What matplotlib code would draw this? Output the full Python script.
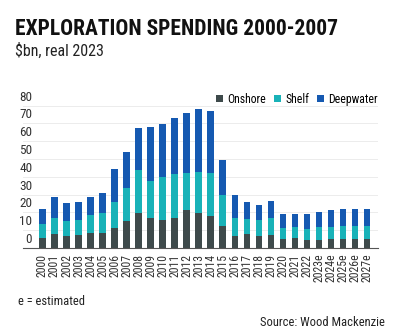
import numpy as np
import matplotlib
matplotlib.use("Agg")
import matplotlib.pyplot as plt
from matplotlib import font_manager
from matplotlib.transforms import blended_transform_factory, offset_copy

years = ["2000", "2001", "2002", "2003", "2004", "2005", "2006", "2007",
         "2008", "2009", "2010", "2011", "2012", "2013", "2014", "2015",
         "2016", "2017", "2018", "2019", "2020", "2021", "2022",
         "2023e", "2024e", "2025e", "2026e", "2027e"]
onshore = [5.6, 7.9, 6.7, 7.1, 8.6, 8.4, 11.4, 15.0, 19.7, 16.7, 15.9, 16.7,
           21.2, 19.7, 18.2, 12.2, 6.7, 7.7, 6.7, 7.1, 5.1, 5.6, 4.7,
           4.7, 4.9, 5.2, 5.2, 4.9]
shelf = [8.1, 8.8, 8.3, 8.8, 10.1, 11.5, 14.4, 18.5, 23.9, 21.1, 24.0, 24.7,
         21.1, 22.8, 24.1, 17.4, 10.0, 8.4, 9.0, 9.8, 6.1, 6.2, 6.2,
         6.9, 7.1, 7.3, 7.2, 7.6]
deepwater = [8.4, 11.8, 10.1, 9.9, 9.8, 11.0, 18.4, 20.6, 24.0, 30.0, 29.6,
             31.8, 33.7, 35.6, 34.5, 19.7, 13.3, 9.6, 8.3, 9.3, 8.1, 7.5,
             8.0, 8.8, 9.3, 9.6, 9.7, 9.6]
yticks = [0, 10, 20, 30, 40, 50, 60, 70, 80]

names = {f.name for f in font_manager.fontManager.ttflist}
fam = "DejaVu Sans"
for cand in ["Roboto Condensed", "Liberation Sans Narrow", "DejaVu Sans Condensed",
             "Open Sans Condensed", "Roboto", "Liberation Sans"]:
    if cand in names:
        fam = cand
        break
plt.rcParams["font.family"] = [fam, "DejaVu Sans"]
plt.rcParams["font.stretch"] = "condensed"

c_on = "#3e4a4b"
c_sh = "#19b2b8"
c_dw = "#1559b1"

fig = plt.figure(figsize=(4.0, 3.31), dpi=100)
ax = fig.add_axes([0.0575, 0.2508, 0.8875, 0.4299])

x = np.arange(len(years))
on = np.array(onshore)
sh = np.array(shelf)
dw = np.array(deepwater)
w = 0.55
ax.bar(x, on, w, color=c_on, label="Onshore", zorder=3)
ax.bar(x, sh, w, bottom=on, color=c_sh, label="Shelf", zorder=3)
ax.bar(x, dw, w, bottom=on + sh, color=c_dw, label="Deepwater", zorder=3)

ax.set_xlim(-1.62, 27.91)
ax.set_ylim(0, 80)
for s in ["top", "right", "left"]:
    ax.spines[s].set_visible(False)
ax.spines["bottom"].set_color("#555555")
ax.spines["bottom"].set_linewidth(0.8)
ax.spines["bottom"].set_zorder(4)

ax.set_yticks(yticks)
ax.yaxis.grid(True, color="#ececec", linewidth=0.7, zorder=0)
ax.tick_params(axis="y", length=0, labelleft=False)
trans = blended_transform_factory(ax.transAxes, ax.transData)
trans = offset_copy(trans, fig=fig, x=0, y=2, units="dots")
for v in yticks:
    ax.text(0.026, v, str(v), transform=trans, ha="right", va="bottom",
            fontsize=9.5, color="#333333")

ax.set_xticks(x)
ax.set_xticklabels(years, rotation=90, fontsize=8.5, color="#333333")
ax.tick_params(axis="x", length=0, pad=4)

ax.legend(loc="lower right", bbox_to_anchor=(1.0, 1.0), ncol=3, frameon=False,
          fontsize=8.5, handlelength=0.6, handleheight=0.6, handletextpad=0.35,
          columnspacing=0.7, borderaxespad=0, borderpad=0)

fig.text(0.037, 0.895, "EXPLORATION SPENDING 2000-2007", fontsize=15.5,
         fontweight="heavy", color="#111111", ha="left", va="baseline")
fig.text(0.037, 0.83, "$bn, real 2023", fontsize=11.5, color="#222222",
         ha="left", va="baseline")
fig.text(0.045, 0.088, "e = estimated", fontsize=9, color="#222222",
         ha="left", va="center")
fig.text(0.962, 0.027, "Source: Wood Mackenzie", fontsize=9, color="#222222",
         ha="right", va="center")

fig.savefig("out.png", dpi=100)
